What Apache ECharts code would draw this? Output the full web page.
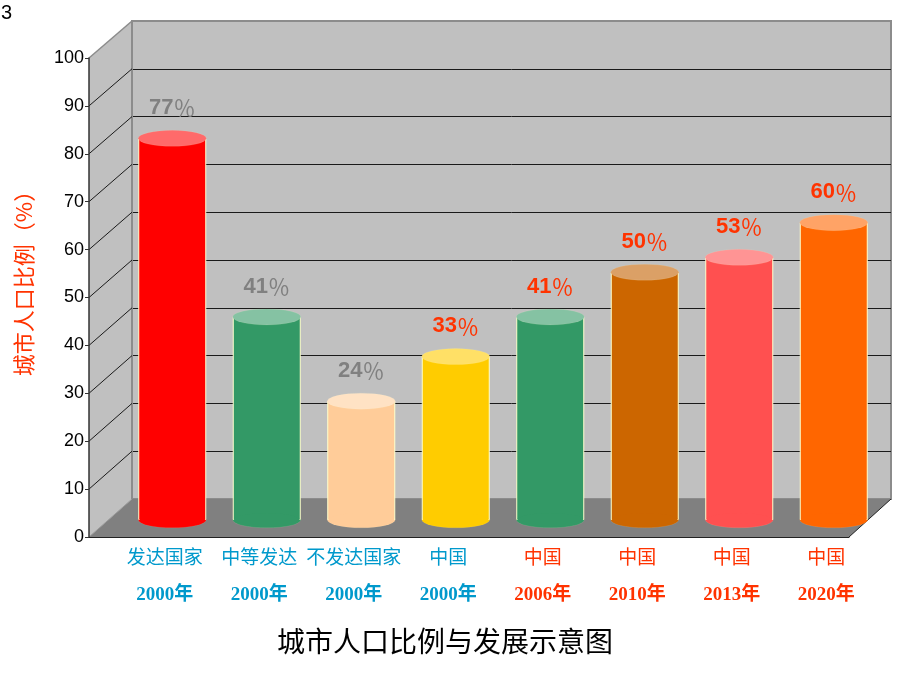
<!DOCTYPE html>
<html>
<head>
<meta charset="utf-8">
<script src="https://cdn.jsdelivr.net/npm/echarts@6.0.0/dist/echarts.min.js"></script>
<style>
    html, body { margin: 0; padding: 0; background: #fff; }
    #chart { width: 920px; height: 690px; }
</style>
</head>
<body>
<div id="chart"></div>
<script>
// data
const categoryNames = ['发达国家', '中等发达', '不发达国家', '中国', '中国', '中国', '中国', '中国'];
const categoryYears = ['2000年', '2000年', '2000年', '2000年', '2006年', '2010年', '2013年', '2020年'];
const urbanShare = [77, 41, 24, 33, 41, 50, 53, 60];

// styles
const barColors = ['#FF0000', '#339966', '#FFCC99', '#FFCC00', '#339966', '#CC6600', '#FF5050', '#FF6600'];
const capColors = ['#FF6A6A', '#85C2A3', '#FFE2C4', '#FFE066', '#85C2A3', '#DBA066', '#FF9494', '#FFA366'];
const valueLabelColors = ['#808080', '#808080', '#808080', '#FF3300', '#FF3300', '#FF3300', '#FF3300', '#FF3300'];
const BLUE = '#0099CC';
const RED = '#FF3300';
const EDGE = '#FFFFCC';

// box layout (back wall / front plane of the 3D frame)
const BACK = { left: 132, top: 21, right: 891, bottom: 499 };
const FRONT = { left: 89, top: 58, right: 849, bottom: 537 };
const CYL_W = 68, CYL_H = 16;

const categories = categoryNames.map((n, i) => n + '\n' + categoryYears[i]);

const chart = echarts.init(document.getElementById('chart'));

const option = {
    backgroundColor: '#fff',
    animation: false,
    grid: [
        { // back wall
            left: BACK.left, top: BACK.top,
            width: BACK.right - BACK.left, height: BACK.bottom - BACK.top,
            show: true, backgroundColor: '#C0C0C0', borderColor: '#8C8C8C', borderWidth: 2,
            outerBoundsMode: 'none'
        },
        { // front plane, carries the value axis
            left: FRONT.left, top: FRONT.top,
            width: FRONT.right - FRONT.left, height: FRONT.bottom - FRONT.top,
            outerBoundsMode: 'none'
        },
        { // cylinders
            left: 125, top: 24, width: 756, height: 496,
            outerBoundsMode: 'none'
        }
    ],
    xAxis: [
        { gridIndex: 0, type: 'category', data: categories, show: false },
        {
            gridIndex: 1, type: 'category', data: categories, z: 6,
            axisLine: { show: true, lineStyle: { color: '#222', width: 1 } },
            axisTick: { show: false }, axisLabel: { show: false }
        },
        {
            gridIndex: 2, type: 'category', data: categories,
            axisLine: { show: false }, axisTick: { show: false },
            axisLabel: {
                interval: 0,
                hideOverlap: false,
                margin: 17,
                padding: [0, 15, 0, 0],
                formatter: (val, idx) => {
                    const parts = val.split('\n');
                    const k = idx < 4 ? 'b' : 'r';
                    return '{' + k + 'n|' + parts[0] + '}\n{' + k + 'y|' + parts[1] + '}';
                },
                rich: {
                    bn: { color: BLUE, fontSize: 19, fontFamily: '"Noto Sans CJK SC"', lineHeight: 39 },
                    by: { color: BLUE, fontSize: 19, fontWeight: 'bold', fontFamily: '"Liberation Serif", "Noto Sans CJK SC"', lineHeight: 39 },
                    rn: { color: RED, fontSize: 19, fontFamily: '"Noto Sans CJK SC"', lineHeight: 39 },
                    ry: { color: RED, fontSize: 19, fontWeight: 'bold', fontFamily: '"Liberation Serif", "Noto Sans CJK SC"', lineHeight: 39 }
                }
            }
        }
    ],
    yAxis: [
        {
            gridIndex: 0, type: 'value', min: 0, max: 100, interval: 10,
            axisLine: { show: false }, axisTick: { show: false }, axisLabel: { show: false },
            splitLine: { show: true, showMinLine: false, showMaxLine: false, lineStyle: { color: '#1A1A1A', width: 1 } }
        },
        {
            gridIndex: 1, type: 'value', min: 0, max: 100, interval: 10, z: 6,
            axisLine: { show: true, lineStyle: { color: '#333', width: 1.5 } },
            axisTick: { show: true, length: 4, lineStyle: { color: '#333' } },
            axisLabel: { color: '#000', fontSize: 18, fontFamily: 'Arial, "Liberation Sans"', margin: 5 },
            splitLine: { show: false }
        },
        { gridIndex: 2, type: 'value', min: 0, max: 100, show: false }
    ],
    series: [
        { // bottom rim of each cylinder
            type: 'pictorialBar', xAxisIndex: 2, yAxisIndex: 2, z: 3,
            symbol: 'circle', symbolSize: [CYL_W, CYL_H], symbolPosition: 'start', symbolOffset: [0, '50%'],
            barWidth: CYL_W, barGap: '-100%',
            itemStyle: { borderColor: EDGE, borderWidth: 1 },
            data: urbanShare.map((v, i) => ({ value: v, itemStyle: { color: barColors[i] } }))
        },
        { // cylinder body
            type: 'bar', xAxisIndex: 2, yAxisIndex: 2, z: 4,
            barWidth: CYL_W,
            itemStyle: { borderColor: EDGE, borderWidth: 1 },
            label: {
                show: true, position: 'top', distance: 19,
                formatter: '{c}{p|％}',
                fontSize: 22, fontWeight: 'bold',
                fontFamily: 'Arial, "Liberation Sans"',
                rich: { p: { fontSize: 22, fontWeight: 'normal', fontFamily: '"Noto Sans CJK SC"' } }
            },
            data: urbanShare.map((v, i) => ({
                value: v,
                itemStyle: { color: barColors[i] },
                label: { color: valueLabelColors[i], rich: { p: { color: valueLabelColors[i] } } }
            }))
        },
        { // covers the body's bottom edge line
            type: 'pictorialBar', xAxisIndex: 2, yAxisIndex: 2, z: 5,
            symbol: 'circle', symbolSize: [CYL_W - 2, CYL_H - 2], symbolPosition: 'start', symbolOffset: [0, '50%'],
            barWidth: CYL_W, barGap: '-100%',
            data: urbanShare.map((v, i) => ({ value: v, itemStyle: { color: barColors[i] } }))
        },
        { // top cap
            type: 'pictorialBar', xAxisIndex: 2, yAxisIndex: 2, z: 6,
            symbol: 'circle', symbolSize: [CYL_W, CYL_H], symbolPosition: 'end', symbolOffset: [0, '-50%'],
            barWidth: CYL_W, barGap: '-100%',
            itemStyle: { borderColor: EDGE, borderWidth: 1 },
            data: urbanShare.map((v, i) => ({ value: v, itemStyle: { color: capColors[i] } }))
        }
    ]
};

chart.setOption(option);

// side wall, floor and the slanted grid lines, placed from the two value axes
const yBack = v => chart.convertToPixel({ yAxisIndex: 0 }, v);
const yFront = v => chart.convertToPixel({ yAxisIndex: 1 }, v);

const graphics = [
    {
        type: 'polygon', z: 1, silent: true,
        shape: { points: [[FRONT.left, yFront(100)], [BACK.left, yBack(100)], [BACK.left, yBack(0)], [FRONT.left, yFront(0)]] },
        style: { fill: '#C0C0C0' }
    },
    {
        type: 'polygon', z: 1, silent: true,
        shape: { points: [[FRONT.left, yFront(0)], [BACK.left, yBack(0)], [BACK.right, yBack(0)], [FRONT.right, yFront(0)]] },
        style: { fill: '#808080' }
    },
    {
        type: 'line', z: 2, silent: true,
        shape: { x1: FRONT.left, y1: yFront(100), x2: BACK.left, y2: yBack(100) },
        style: { stroke: '#8C8C8C', lineWidth: 1.5 }
    },
    {
        type: 'line', z: 2, silent: true,
        shape: { x1: BACK.left, y1: yBack(100), x2: BACK.left, y2: yBack(0) },
        style: { stroke: '#8C8C8C', lineWidth: 2 }
    },
    {
        type: 'line', z: 2, silent: true,
        shape: { x1: FRONT.left, y1: yFront(0), x2: BACK.left, y2: yBack(0) },
        style: { stroke: '#9A9A9A', lineWidth: 1 }
    },
    {
        type: 'line', z: 2, silent: true,
        shape: { x1: FRONT.right, y1: yFront(0), x2: BACK.right, y2: yBack(0) },
        style: { stroke: '#222', lineWidth: 1 }
    },
    {
        type: 'text', z: 10, silent: true, x: 1, y: 3,
        style: { text: '3', fontSize: 20, fontFamily: 'Arial, "Liberation Sans"', fill: '#000' }
    },
    {
        type: 'text', z: 10, silent: true, x: 24, y: 278, rotation: Math.PI / 2,
        style: {
            text: '城市人口比例（%）', fontSize: 22, fontFamily: '"Noto Sans CJK SC"', fill: RED,
            align: 'center', verticalAlign: 'middle'
        }
    },
    {
        type: 'text', z: 10, silent: true, x: 445, y: 641,
        style: {
            text: '城市人口比例与发展示意图', fontSize: 28, fontFamily: '"Noto Sans CJK SC"', fill: '#000',
            align: 'center', verticalAlign: 'middle'
        }
    }
];
for (let v = 10; v < 100; v += 10) {
    graphics.push({
        type: 'line', z: 2, silent: true,
        shape: { x1: FRONT.left, y1: yFront(v), x2: BACK.left, y2: yBack(v) },
        style: { stroke: '#1A1A1A', lineWidth: 1 }
    });
}

chart.setOption({ graphic: graphics });
</script>
</body>
</html>
